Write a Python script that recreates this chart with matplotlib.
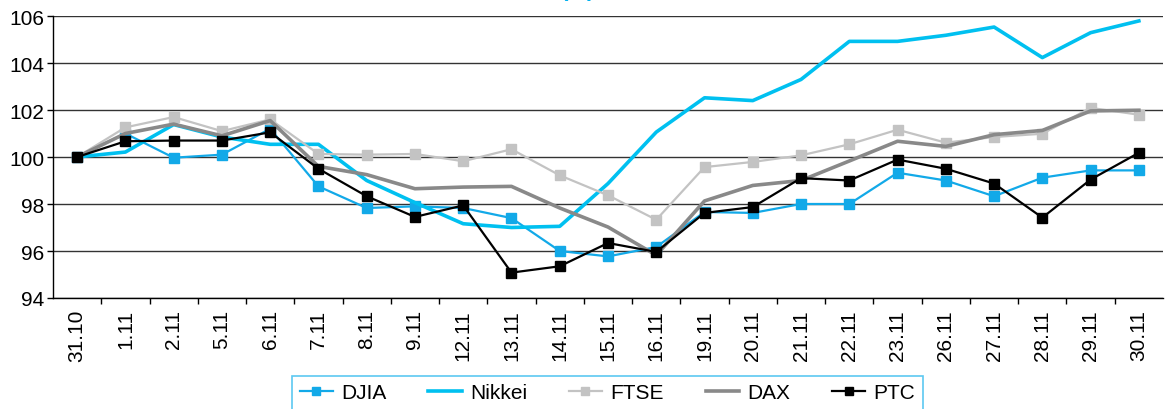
import matplotlib.pyplot as plt
import numpy as np

plt.rcParams["font.family"] = ["Liberation Sans", "DejaVu Sans"]

dates = ["31.10", "1.11", "2.11", "5.11", "6.11", "7.11", "8.11", "9.11", "12.11",
         "13.11", "14.11", "15.11", "16.11", "19.11", "20.11", "21.11", "22.11",
         "23.11", "26.11", "27.11", "28.11", "29.11", "30.11"]

djia = [100.0, 101.0, 99.97, 100.1, 101.2, 98.75, 97.83, 97.9, 97.83, 97.4, 96.0,
        95.77, 96.17, 97.66, 97.62, 98.0, 98.0, 99.33, 99.0, 98.33, 99.12, 99.43, 99.43]
nikkei = [100.0, 100.21, 101.38, 100.85, 100.54, 100.54, 99.0, 98.06, 97.16, 97.0, 97.05,
          98.87, 101.06, 102.52, 102.4, 103.3, 104.92, 104.92, 105.18, 105.53, 104.23,
          105.29, 105.79]
ftse = [100.0, 101.26, 101.7, 101.1, 101.6, 100.13, 100.1, 100.13, 99.82, 100.33, 99.22,
        98.37, 97.33, 99.57, 99.79, 100.07, 100.54, 101.16, 100.61, 100.85, 100.99,
        102.09, 101.8]
dax = [100.0, 101.0, 101.4, 100.9, 101.55, 99.6, 99.25, 98.65, 98.72, 98.75, 97.83,
       97.02, 95.82, 98.13, 98.79, 99.0, 99.83, 100.67, 100.45, 100.95, 101.13, 101.96,
       101.99]
ptc = [100.0, 100.67, 100.7, 100.7, 101.05, 99.5, 98.33, 97.45, 97.94, 95.08, 95.35,
       96.34, 95.96, 97.62, 97.87, 99.1, 99.0, 99.89, 99.5, 98.87, 97.42, 99.04, 100.18]

fig = plt.figure(figsize=(11.65, 4.10), dpi=100)
ax = fig.add_axes([53 / 1165, 1 - 299 / 410, 1110 / 1165, 282 / 410])

x = np.arange(len(dates))
ax.plot(x, djia, color="#12a9e8", lw=1.6, marker="s", ms=6.5, label="DJIA")
ax.plot(x, nikkei, color="#00c0f0", lw=2.6, label="Nikkei")
ax.plot(x, ftse, color="#c3c3c3", lw=1.6, marker="s", ms=6.5, label="FTSE")
ax.plot(x, dax, color="#898989", lw=2.6, label="DAX")
ax.plot(x, ptc, color="black", lw=1.6, marker="s", ms=6.5, label="PTC")

ax.set_ylim(94, 106)
ax.set_yticks(range(94, 107, 2))
ax.set_xlim(-0.5, len(dates) - 0.5)
ax.set_xticks(x)
ax.set_xticklabels(dates, rotation=90)
ax.set_xticks(x[:-1] + 0.5, minor=True)
ax.tick_params(axis="x", which="major", length=0, pad=8, labelsize=15)
ax.tick_params(axis="x", which="minor", length=4, direction="out", width=1)
ax.tick_params(axis="y", length=4, direction="out", width=1, labelsize=15, pad=2)

ax.grid(axis="y", color="#333333", lw=1)
ax.set_axisbelow(True)
for side in ["top", "right"]:
    ax.spines[side].set_visible(False)
for side in ["left", "bottom"]:
    ax.spines[side].set_color("black")
    ax.spines[side].set_linewidth(1)

# title sits mostly above the visible area, only its lower edge shows
fig.text(578 / 1165, 1.0 + 4 / 410, "(%)", color="#00b0ef", fontsize=16,
         fontweight="bold", ha="center", va="baseline")

leg = ax.legend(loc="upper center", bbox_to_anchor=(607.5 / 1165, 1 - 377 / 410),
                bbox_transform=fig.transFigure, ncol=5, fontsize=15, frameon=True,
                fancybox=False, handlelength=1.6, handletextpad=0.4,
                columnspacing=2.0, borderpad=0.35, borderaxespad=0,
                markerscale=0.8)
leg.get_frame().set_edgecolor("#33bbee")
leg.get_frame().set_linewidth(1.2)

fig.savefig("out.png", dpi=100)
